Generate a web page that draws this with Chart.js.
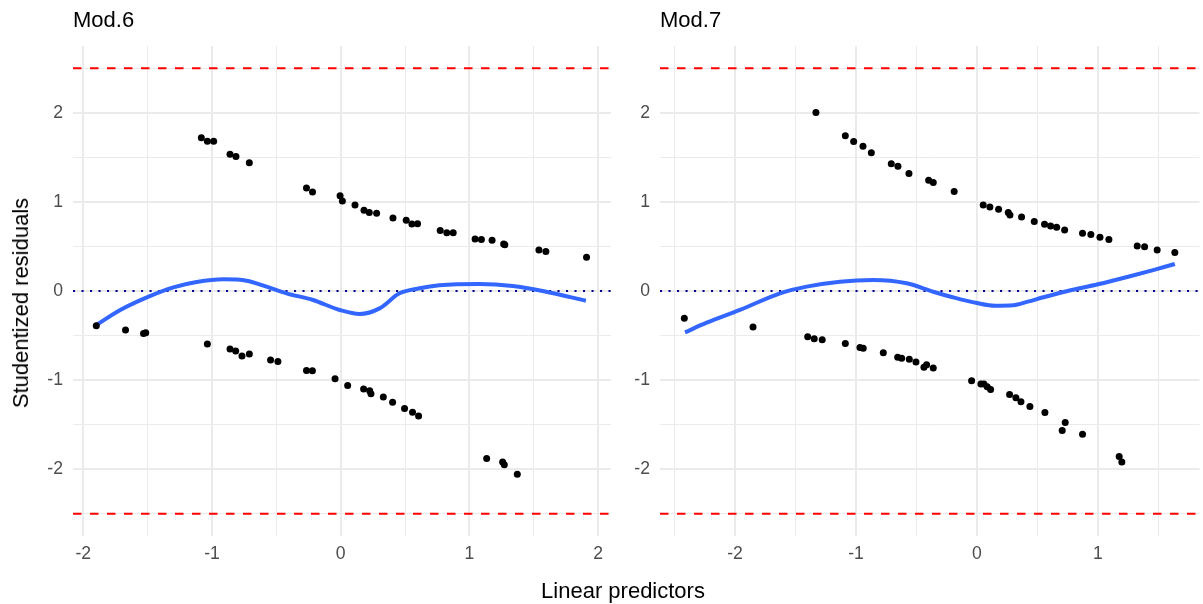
<!DOCTYPE html>
<html><head><meta charset="utf-8">
<script src="https://cdn.jsdelivr.net/npm/chart.js@4"></script>
<style>
body{margin:0;width:1203px;height:604px;background:#fff;position:relative;overflow:hidden;font-family:"Liberation Sans",Arial,sans-serif;}
.panel{position:absolute;top:0;height:604px;}
.lbl{position:absolute;white-space:nowrap;color:#000;font-size:22px;line-height:22px;}
</style></head><body>
<div class="panel" style="left:0;width:620px"><canvas id="c1" width="620" height="604"></canvas></div>
<div class="panel" style="left:620px;width:583px"><canvas id="c2" width="583" height="604"></canvas></div>
<div class="lbl" id="t1" style="left:73px;top:9px"></div>
<div class="lbl" id="t2" style="left:660px;top:9px"></div>
<div class="lbl" id="xt" style="left:623px;top:580px;transform:translateX(-50%)"></div>
<div class="lbl" id="yt" style="left:21px;top:303px;transform:translate(-50%,-50%) rotate(-90deg)"></div>
<script>
// ---- text ----
const panelTitles = ["Mod.6", "Mod.7"];
const xTitle = "Linear predictors";
const yTitle = "Studentized residuals";

// ---- axes ----
const yTickValues = [-2.5,-2,-1.5,-1,-0.5,0,0.5,1,1.5,2,2.5];
const xTickValues6 = [-2,-1.5,-1,-0.5,0,0.5,1,1.5,2];
const xTickValues7 = [-2.5,-2,-1.5,-1,-0.5,0,0.5,1,1.5];
const xRange6 = [-2.08, 2.1];
const xRange7 = [-2.62, 1.84];
const yRange = [-2.75, 2.75];
const cutoffLines = [2.5, -2.5];
const zeroLine = [0];

// ---- Mod.6 residual points ----
const mod6X = [-1.083,-1.036,-0.987,-0.86,-0.814,-0.71,-0.266,-0.219,-0.005,0.013,0.111,0.181,0.222,0.279,0.406,0.509,0.553,0.597,0.773,0.824,0.874,1.044,1.093,1.176,1.266,1.275,1.54,1.594,1.91,
  -1.899,-1.672,-1.532,-1.515,-1.036,-0.86,-0.816,-0.767,-0.71,-0.545,-0.488,-0.266,-0.22,-0.044,0.054,0.178,0.225,0.235,0.331,0.403,0.496,0.558,0.605,1.134,1.258,1.271,1.372];
const mod6Y = [1.72,1.68,1.68,1.535,1.51,1.44,1.157,1.11,1.07,1.01,0.966,0.906,0.88,0.873,0.82,0.794,0.753,0.756,0.678,0.655,0.655,0.584,0.577,0.57,0.528,0.52,0.46,0.442,0.378,
  -0.39,-0.438,-0.476,-0.468,-0.596,-0.652,-0.674,-0.73,-0.708,-0.775,-0.79,-0.891,-0.895,-0.985,-1.06,-1.10,-1.12,-1.154,-1.19,-1.25,-1.318,-1.36,-1.404,-1.88,-1.92,-1.95,-2.056];

// ---- Mod.6 smoother ----
const smooth6X = [-1.899,-1.713,-1.506,-1.30,-1.119,-0.912,-0.731,-0.576,-0.421,-0.215,-0.008,0.147,0.302,0.457,0.612,0.767,1.078,1.336,1.594,1.905];
const smooth6Y = [-0.382,-0.213,-0.071,0.041,0.101,0.131,0.116,0.049,-0.026,-0.101,-0.213,-0.258,-0.195,-0.026,0.030,0.064,0.079,0.056,-0.008,-0.109];

// ---- Mod.7 residual points ----
const mod7X = [-1.331,-1.088,-1.019,-0.942,-0.873,-0.708,-0.653,-0.562,-0.399,-0.361,-0.188,0.052,0.107,0.179,0.259,0.273,0.369,0.474,0.559,0.609,0.659,0.725,0.873,0.942,1.017,1.091,1.325,1.386,1.49,1.636,
  -2.419,-1.851,-1.399,-1.345,-1.279,-1.088,-0.967,-0.94,-0.774,-0.655,-0.622,-0.559,-0.504,-0.438,-0.416,-0.361,-0.044,0.033,0.058,0.085,0.113,0.27,0.322,0.364,0.438,0.562,0.705,0.73,0.873,1.176,1.198];
const mod7Y = [2.003,1.742,1.678,1.626,1.551,1.427,1.401,1.318,1.243,1.217,1.116,0.966,0.944,0.918,0.88,0.854,0.831,0.779,0.749,0.73,0.716,0.685,0.648,0.633,0.603,0.577,0.506,0.498,0.461,0.431,
  -0.307,-0.404,-0.513,-0.536,-0.547,-0.588,-0.633,-0.644,-0.693,-0.745,-0.756,-0.767,-0.798,-0.857,-0.828,-0.865,-1.008,-1.045,-1.045,-1.075,-1.105,-1.161,-1.199,-1.243,-1.296,-1.363,-1.565,-1.476,-1.607,-1.857,-1.918];

// ---- Mod.7 smoother ----
const smooth7X = [-2.413,-2.234,-1.959,-1.628,-1.408,-1.132,-0.857,-0.581,-0.361,-0.2,0,0.15,0.3,0.42,0.55,0.75,1.0,1.25,1.457,1.636];
const smooth7Y = [-0.464,-0.356,-0.213,-0.026,0.049,0.105,0.124,0.087,-0.008,-0.07,-0.135,-0.165,-0.16,-0.12,-0.07,0.0,0.075,0.16,0.235,0.303];

document.getElementById('t1').textContent = panelTitles[0];
document.getElementById('t2').textContent = panelTitles[1];
document.getElementById('xt').textContent = xTitle;
document.getElementById('yt').textContent = yTitle;

const FONT = '"Liberation Sans", Arial, sans-serif';
const zip = (xs, ys) => xs.map((x, i) => ({x, y: ys[i]}));

const refLines = {
  id: 'refLines',
  beforeDatasetsDraw(chart) {
    const {ctx, chartArea: a, scales: {y}} = chart;
    ctx.save();
    ctx.beginPath(); ctx.rect(a.left, a.top, a.right - a.left, a.bottom - a.top); ctx.clip();
    ctx.lineWidth = 2;
    ctx.strokeStyle = '#FF0000'; ctx.setLineDash([8.5, 8.5]);
    cutoffLines.forEach(v => { const p = y.getPixelForValue(v); ctx.beginPath(); ctx.moveTo(a.left, p); ctx.lineTo(a.right, p); ctx.stroke(); });
    ctx.strokeStyle = '#00008B'; ctx.setLineDash([2.1, 6.4]);
    zeroLine.forEach(v => { const p = y.getPixelForValue(v); ctx.beginPath(); ctx.moveTo(a.left, p); ctx.lineTo(a.right, p); ctx.stroke(); });
    ctx.restore();
  }
};

function makeChart(id, xs, ys, sx, sy, xTicks, xRange, yAxisWidth, padRight) {
  new Chart(document.getElementById(id), {
    type: 'scatter',
    data: {
      datasets: [
        { data: zip(xs, ys), backgroundColor: '#000000', borderWidth: 0, pointRadius: 3.5, pointHoverRadius: 3.5, order: 0 },
        { data: zip(sx, sy), showLine: true, borderColor: '#3366FF', borderWidth: 4, pointRadius: 0, fill: false, cubicInterpolationMode: 'monotone', order: 1 }
      ]
    },
    options: {
      responsive: false, animation: false, devicePixelRatio: 1,
      layout: { padding: { top: 46, right: padRight, left: 0, bottom: 0 } },
      plugins: { legend: { display: false }, tooltip: { enabled: false } },
      scales: {
        x: {
          type: 'linear', min: xRange[0], max: xRange[1],
          afterBuildTicks: s => { s.ticks = xTicks.map(v => ({ value: v })); },
          afterFit: s => { s.height = 68; },
          ticks: { autoSkip: false, maxRotation: 0, padding: 8, color: '#4D4D4D', font: { family: FONT, size: 17.6 },
                   callback: v => Number.isInteger(v) ? String(v) : '' },
          grid: { color: '#EBEBEB', drawTicks: false, lineWidth: c => Number.isInteger(c.tick.value) ? 2 : 1 },
          border: { display: false }
        },
        y: {
          type: 'linear', min: yRange[0], max: yRange[1],
          afterBuildTicks: s => { s.ticks = yTickValues.map(v => ({ value: v })); },
          afterFit: s => { s.width = yAxisWidth; },
          ticks: { autoSkip: false, padding: 10, color: '#4D4D4D', font: { family: FONT, size: 17.6 },
                   callback: v => Number.isInteger(v) ? String(v) : '' },
          grid: { color: '#EBEBEB', drawTicks: false, lineWidth: c => Number.isInteger(c.tick.value) ? 2 : 1 },
          border: { display: false }
        }
      }
    },
    plugins: [refLines]
  });
}

makeChart('c1', mod6X, mod6Y, smooth6X, smooth6Y, xTickValues6, xRange6, 73, 9);
makeChart('c2', mod7X, mod7Y, smooth7X, smooth7Y, xTickValues7, xRange7, 40, 3);
</script>
</body></html>
